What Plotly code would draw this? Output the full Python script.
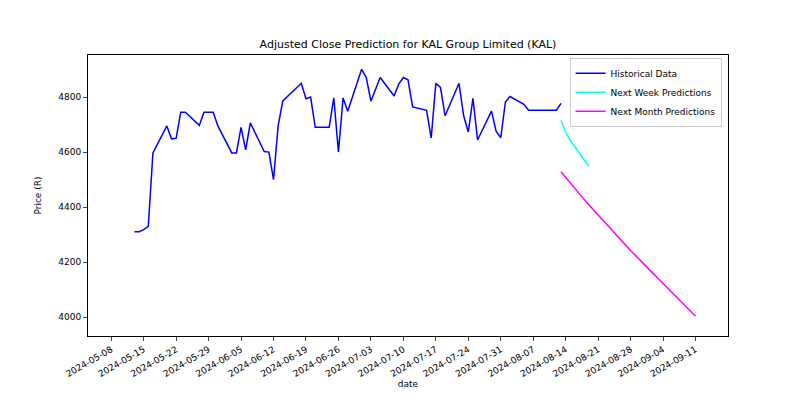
import pandas as pd
import plotly.graph_objects as go

hist_dates = pd.to_datetime([
    "2024-05-13", "2024-05-14", "2024-05-15", "2024-05-16", "2024-05-17",
    "2024-05-20", "2024-05-21", "2024-05-22", "2024-05-23", "2024-05-24",
    "2024-05-27", "2024-05-28", "2024-05-29", "2024-05-30", "2024-05-31",
    "2024-06-03", "2024-06-04", "2024-06-05", "2024-06-06", "2024-06-07",
    "2024-06-10", "2024-06-11", "2024-06-12", "2024-06-13", "2024-06-14",
    "2024-06-18", "2024-06-19", "2024-06-20", "2024-06-21",
    "2024-06-24", "2024-06-25", "2024-06-26", "2024-06-27", "2024-06-28",
    "2024-07-01", "2024-07-02", "2024-07-03", "2024-07-05",
    "2024-07-08", "2024-07-09", "2024-07-10", "2024-07-11", "2024-07-12",
    "2024-07-15", "2024-07-16", "2024-07-17", "2024-07-18", "2024-07-19",
    "2024-07-22", "2024-07-23", "2024-07-24", "2024-07-25", "2024-07-26",
    "2024-07-29", "2024-07-30", "2024-07-31", "2024-08-01", "2024-08-02",
    "2024-08-05", "2024-08-06", "2024-08-07", "2024-08-08",
    "2024-08-12", "2024-08-13",
])
hist_close = [
    4310, 4310, 4318, 4330, 4597,
    4695, 4648, 4650, 4745, 4745,
    4697, 4745, 4745, 4745, 4695,
    4597, 4597, 4690, 4608, 4706,
    4602, 4600, 4500, 4695, 4786,
    4850, 4794, 4800, 4690,
    4690, 4797, 4600, 4797, 4748,
    4901, 4871, 4785, 4871,
    4804, 4847, 4871, 4863, 4764,
    4752, 4651, 4850, 4835, 4732,
    4850, 4732, 4673, 4795, 4644,
    4749, 4676, 4652, 4782, 4802,
    4774, 4752, 4752, 4752,
    4752, 4777,
]

week_dates = pd.date_range("2024-08-13", "2024-08-19")
week_pred = [4715, 4672, 4642, 4617, 4594, 4571, 4549]

month_dates = pd.date_range("2024-08-13", "2024-09-11")
month_pred = [
    4528, 4507, 4487, 4467, 4447, 4427, 4408, 4389, 4370, 4351,
    4332, 4314, 4296, 4278, 4260, 4242, 4224, 4207, 4190, 4173,
    4156, 4139, 4122, 4105, 4088, 4071, 4054, 4037, 4020, 4003,
]

tick_dates = pd.date_range("2024-05-08", "2024-09-11", freq="7D")

fig = go.Figure()
fig.add_trace(go.Scatter(x=hist_dates, y=hist_close, mode="lines", name="Historical Data",
                         line=dict(color="blue", width=1.5)))
fig.add_trace(go.Scatter(x=week_dates, y=week_pred, mode="lines", name="Next Week Predictions",
                         line=dict(color="cyan", width=1.5)))
fig.add_trace(go.Scatter(x=month_dates, y=month_pred, mode="lines", name="Next Month Predictions",
                         line=dict(color="magenta", width=1.5)))

fig.update_layout(
    width=800, height=400,
    margin=dict(l=80, r=80, t=47, b=72, autoexpand=False),
    plot_bgcolor="white", paper_bgcolor="white",
    font=dict(family="DejaVu Sans", size=9, color="black"),
    title=dict(text="Adjusted Close Prediction for KAL Group Limited (KAL)",
               x=0.5, xanchor="center", y=1 - 36 / 400, yanchor="middle", font=dict(size=11)),
    legend=dict(x=0.99, y=0.99, xanchor="right", yanchor="top", tracegroupgap=0,
                bordercolor="#cccccc", borderwidth=1, font=dict(size=9)),
    showlegend=True,
)
fig.update_xaxes(
    range=["2024-05-03", "2024-09-18"],
    tickvals=tick_dates, ticktext=[d.strftime("%Y-%m-%d") for d in tick_dates],
    tickangle=-30, ticks="outside", ticklen=4, showgrid=False,
    showline=True, linecolor="black", mirror=True, zeroline=False, automargin=False,
    title=dict(text="date", font=dict(size=9), standoff=2),
)
fig.update_yaxes(
    range=[3931, 4953], tickvals=[4000, 4200, 4400, 4600, 4800],
    ticks="outside", ticklen=4, showgrid=False,
    showline=True, linecolor="black", mirror=True, zeroline=False,
    title=dict(text="Price (R)", font=dict(size=9)),
)

fig.write_html("out.html")
